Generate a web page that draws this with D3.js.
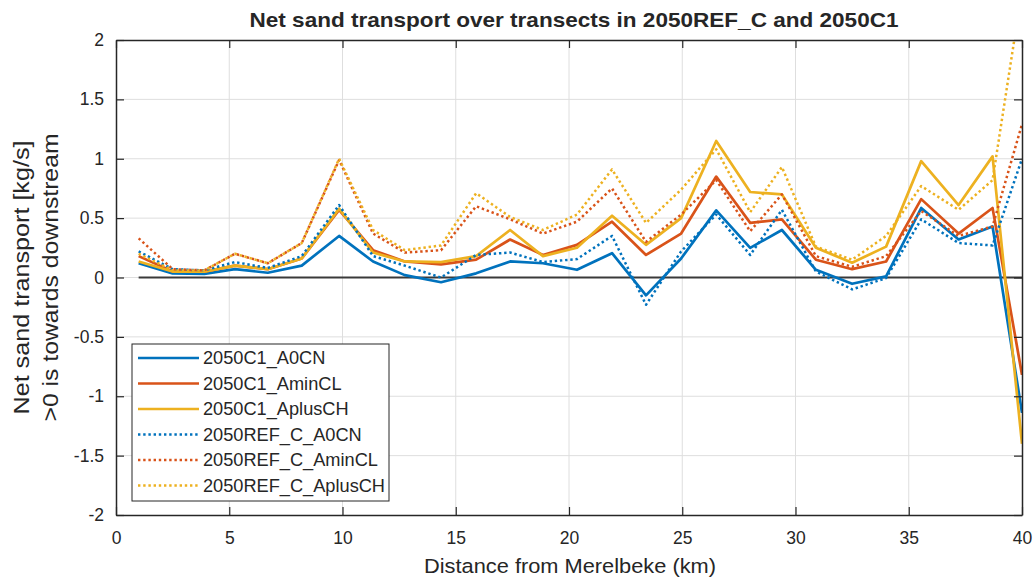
<!DOCTYPE html>
<html>
<head>
<meta charset="utf-8">
<script src="https://cdn.jsdelivr.net/npm/d3@7"></script>
<style>
  body { margin: 0; background: #fff; }
  text { font-family: "Liberation Sans", Arial, Helvetica, sans-serif; fill: #262626; }
</style>
</head>
<body>
<div id="chart"></div>
<script>
// distance of each transect from Merelbeke (km)
var distKm = [1.0, 2.5, 3.9, 5.25, 6.7, 8.2, 9.85, 11.35, 12.75, 14.35, 15.9, 17.4, 18.85, 20.35,
  21.9, 23.4, 24.95, 26.5, 28.0, 29.4, 30.9, 32.5, 34.0, 35.55, 37.2, 38.7, 40.0];

// net sand transport [kg/s]
var c1A0CN = [0.12, 0.035, 0.03, 0.07, 0.04, 0.10, 0.35, 0.135, 0.02, -0.04, 0.035, 0.135, 0.12, 0.065,
  0.205, -0.15, 0.16, 0.565, 0.25, 0.40, 0.065, -0.053, 0.01, 0.585, 0.32, 0.43, -1.14];
var c1AminCL = [0.18, 0.05, 0.05, 0.10, 0.07, 0.16, 0.57, 0.23, 0.135, 0.11, 0.15, 0.32, 0.19, 0.275,
  0.47, 0.19, 0.37, 0.85, 0.46, 0.49, 0.15, 0.07, 0.135, 0.66, 0.37, 0.585, -0.82];
var c1AplusCH = [0.135, 0.05, 0.05, 0.10, 0.07, 0.16, 0.58, 0.21, 0.135, 0.13, 0.18, 0.40, 0.18, 0.25,
  0.52, 0.275, 0.50, 1.15, 0.72, 0.70, 0.25, 0.125, 0.26, 0.98, 0.61, 1.02, -1.40];
var refA0CN = [0.22, 0.07, 0.06, 0.13, 0.08, 0.18, 0.61, 0.18, 0.10, 0.0, 0.19, 0.21, 0.13, 0.155,
  0.35, -0.23, 0.22, 0.53, 0.19, 0.57, 0.05, -0.10, -0.005, 0.49, 0.29, 0.27, 1.0];
var refAminCL = [0.33, 0.07, 0.06, 0.20, 0.12, 0.29, 0.99, 0.37, 0.21, 0.23, 0.60, 0.49, 0.37, 0.47,
  0.75, 0.30, 0.53, 0.82, 0.39, 0.70, 0.18, 0.09, 0.18, 0.56, 0.35, 0.43, 1.29];
var refAplusCH = [0.20, 0.06, 0.06, 0.20, 0.12, 0.29, 1.0, 0.40, 0.23, 0.27, 0.71, 0.51, 0.40, 0.53,
  0.91, 0.46, 0.74, 1.08, 0.55, 0.93, 0.26, 0.15, 0.35, 0.77, 0.57, 0.82, 2.42];

var seriesNames = ["2050C1_A0CN", "2050C1_AminCL", "2050C1_AplusCH",
  "2050REF_C_A0CN", "2050REF_C_AminCL", "2050REF_C_AplusCH"];
var seriesValues = [c1A0CN, c1AminCL, c1AplusCH, refA0CN, refAminCL, refAplusCH];

var xTicks = [0, 5, 10, 15, 20, 25, 30, 35, 40];
var yTicks = [-2, -1.5, -1, -0.5, 0, 0.5, 1, 1.5, 2];

var W = 1036, H = 581;
var margin = {top: 40, right: 14, bottom: 66, left: 116};
var width = W - margin.left - margin.right,
    height = H - margin.top - margin.bottom;

var colors = ["#0072BD", "#D95319", "#EDB120", "#0072BD", "#D95319", "#EDB120"];
var dotted = [false, false, false, true, true, true];

var x = d3.scaleLinear().domain([0, 40]).range([0, width]);
var y = d3.scaleLinear().domain([-2, 2]).range([height, 0]);

var svg = d3.select("#chart").append("svg")
  .attr("width", W).attr("height", H);

svg.append("rect").attr("width", W).attr("height", H).attr("fill", "#fff");

var g = svg.append("g")
  .attr("transform", "translate(" + margin.left + "," + margin.top + ")");

g.append("clipPath").attr("id", "plotClip")
  .append("rect").attr("width", width).attr("height", height);

// grid
g.append("g").selectAll("line").data(xTicks.slice(1, -1)).enter().append("line")
  .attr("x1", function(d) { return x(d); }).attr("x2", function(d) { return x(d); })
  .attr("y1", 0).attr("y2", height)
  .attr("stroke", "#dedede").attr("stroke-width", 1);
g.append("g").selectAll("line").data(yTicks.slice(1, -1)).enter().append("line")
  .attr("y1", function(d) { return y(d); }).attr("y2", function(d) { return y(d); })
  .attr("x1", 0).attr("x2", width)
  .attr("stroke", "#dedede").attr("stroke-width", 1);

// zero line
g.append("line")
  .attr("x1", x(distKm[0])).attr("x2", x(distKm[distKm.length - 1]))
  .attr("y1", y(0)).attr("y2", y(0))
  .attr("stroke", "#3a3a3a").attr("stroke-width", 2);

// series
var line = d3.line()
  .x(function(d) { return x(d[0]); })
  .y(function(d) { return y(d[1]); });

var plotG = g.append("g").attr("clip-path", "url(#plotClip)");
seriesValues.forEach(function(vals, i) {
  var pts = distKm.map(function(k, j) { return [k, vals[j]]; });
  plotG.append("path")
    .attr("d", line(pts))
    .attr("fill", "none")
    .attr("stroke", colors[i])
    .attr("stroke-width", dotted[i] ? 2.5 : 2.7)
    .attr("stroke-dasharray", dotted[i] ? "2.4,2.8" : null)
    .attr("stroke-linejoin", "round");
});

// axes (ticks inward, box on)
var tickLen = 8;
var bottomAxis = g.append("g").attr("transform", "translate(0," + height + ")")
  .call(d3.axisBottom(x).tickValues(xTicks).tickSizeInner(-tickLen).tickSizeOuter(0).tickPadding(17));
var topAxis = g.append("g")
  .call(d3.axisTop(x).tickValues(xTicks).tickSizeInner(-tickLen).tickSizeOuter(0).tickFormat(""));
var leftAxis = g.append("g")
  .call(d3.axisLeft(y).tickValues(yTicks).tickSizeInner(-tickLen).tickSizeOuter(0).tickPadding(12)
    .tickFormat(function(d) { return String(d); }));
var rightAxis = g.append("g").attr("transform", "translate(" + width + ",0)")
  .call(d3.axisRight(y).tickValues(yTicks).tickSizeInner(-tickLen).tickSizeOuter(0).tickFormat(""));

[bottomAxis, topAxis, leftAxis, rightAxis].forEach(function(a) {
  a.selectAll(".domain").attr("stroke", "#262626").attr("stroke-width", 1.5);
  a.selectAll(".tick line").attr("stroke", "#262626").attr("stroke-width", 1.2);
  a.selectAll(".tick text").attr("font-size", 17.5).attr("fill", "#262626")
    .style("font-family", '"Liberation Sans", Arial, sans-serif');
});

// title
svg.append("text")
  .attr("x", 574).attr("y", 27)
  .attr("text-anchor", "middle")
  .attr("font-size", 21).attr("font-weight", "bold")
  .attr("fill", "#000")
  .attr("textLength", 649).attr("lengthAdjust", "spacingAndGlyphs")
  .text("Net sand transport over transects in 2050REF_C and 2050C1");

// axis labels
svg.append("text")
  .attr("x", 570).attr("y", 573)
  .attr("text-anchor", "middle")
  .attr("font-size", 20.5)
  .attr("textLength", 292).attr("lengthAdjust", "spacingAndGlyphs")
  .text("Distance from Merelbeke (km)");

var yLabelLines = ["Net sand transport [kg/s]", ">0 is towards downstream"];
var yLabelX = [29, 58];
var yLabelLen = [274, 288];
yLabelLines.forEach(function(t, i) {
  svg.append("text")
    .attr("transform", "translate(" + yLabelX[i] + "," + (margin.top + height / 2) + ") rotate(-90)")
    .attr("text-anchor", "middle")
    .attr("font-size", 21.5)
    .attr("textLength", yLabelLen[i]).attr("lengthAdjust", "spacingAndGlyphs")
    .text(t);
});

// legend
var legX = 132, legY = 344, legW = 257, legH = 157;
var legend = svg.append("g");
legend.append("rect")
  .attr("x", legX).attr("y", legY).attr("width", legW).attr("height", legH)
  .attr("fill", "#fff").attr("stroke", "#262626").attr("stroke-width", 1);

var rowH = 25.5;
var texts = [];
seriesNames.forEach(function(name, i) {
  var cy = legY + 14 + i * rowH;
  legend.append("line")
    .attr("x1", legX + 6).attr("x2", legX + 67)
    .attr("y1", cy).attr("y2", cy)
    .attr("stroke", colors[i])
    .attr("stroke-width", dotted[i] ? 2.5 : 2.7)
    .attr("stroke-dasharray", dotted[i] ? "2.4,2.8" : null);
  var t = legend.append("text")
    .attr("x", legX + 71).attr("y", cy)
    .attr("dy", "0.36em")
    .attr("font-size", 18)
    .text(name);
  texts.push(t);
});
var longest = d3.max(texts, function(t) { return t.node().getComputedTextLength(); });
var stretch = 182 / longest;
texts.forEach(function(t) {
  t.attr("textLength", t.node().getComputedTextLength() * stretch)
   .attr("lengthAdjust", "spacingAndGlyphs");
});
</script>
</body>
</html>
